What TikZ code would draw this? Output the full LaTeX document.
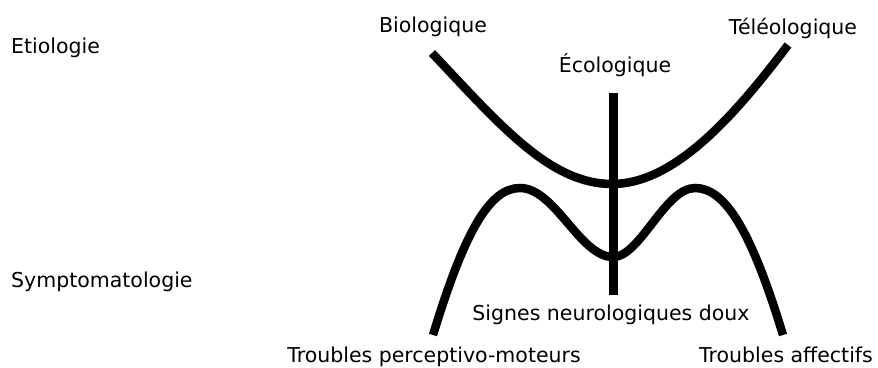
\documentclass[tikz,border=0pt]{standalone}
\usepackage{fontspec}
\setmainfont{DejaVu Sans}
\begin{document}
\begin{tikzpicture}[x=1pt,y=-1pt,
  lbl/.style={inner sep=0pt,anchor=base,font=\fontsize{20.5}{24}\selectfont},
  lblw/.style={lbl,anchor=base west},
  curve/.style={line width=8.5pt,line cap=butt,black},
  stem/.style={line width=9pt,line cap=butt,black}]
\useasboundingbox (0,0) rectangle (878,367);
% labels
\node[lblw] (etio) at (11,53) {Etiologie};
\node[lblw] (sympt) at (11,287) {Symptomatologie};
\node[lbl] (bio) at (433,32) {Biologique};
\node[lbl] (teleo) at (793,34) {Téléologique};
\node[lbl] (eco) at (615,72) {Écologique};
\node[lbl] (signes) at (611,320) {Signes neurologiques doux};
\node[lbl] (tpm) at (434,362) {Troubles perceptivo-moteurs};
\node[lbl] (taff) at (786,362) {Troubles affectifs};
% key points
\coordinate (pL) at (432,53);
\coordinate (pB) at (612,184);
\coordinate (pR) at (788,45);
\coordinate (vT) at (613,93);
\coordinate (vB) at (613,295);
\coordinate (mL) at (433,335);
\coordinate (mP1) at (520,188);
\coordinate (mV) at (613,257);
\coordinate (mP2) at (695,188);
\coordinate (mR) at (783,335);
% parabola
\draw[curve] (pL) .. controls (500,125) and (550,184) .. (pB)
             .. controls (675,184) and (735,115) .. (pR);
% M curve
\draw[curve] (mL) .. controls (465,230) and (490,188) .. (mP1)
             .. controls (555,188) and (580,257) .. (mV)
             .. controls (640,257) and (665,188) .. (mP2)
             .. controls (725,188) and (751,230) .. (mR);
% vertical stem
\draw[stem] (vT) -- (vB);
\end{tikzpicture}
\end{document}
